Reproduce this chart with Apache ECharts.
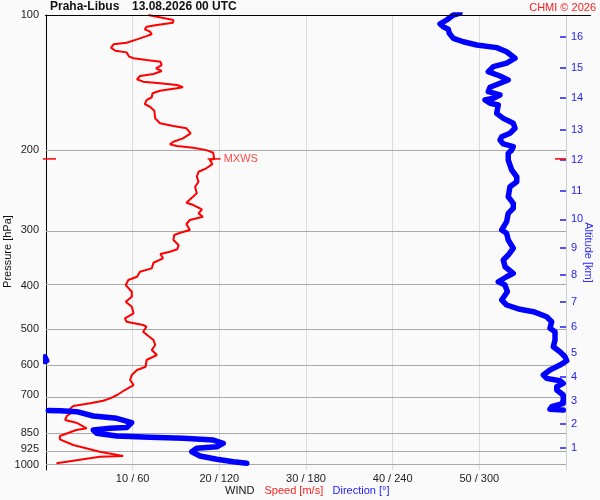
<!DOCTYPE html>
<html>
<head>
<meta charset="utf-8">
<script src="https://cdn.jsdelivr.net/npm/echarts@6/dist/echarts.min.js"></script>
<style>html,body{margin:0;padding:0;background:#fafafa}#chart{width:600px;height:500px}</style>
</head>
<body>
<div id="chart"></div>
<script>
// Pressure levels (hPa) labelled on the left axis
const pressureLevels = [100, 200, 300, 400, 500, 600, 700, 850, 925, 1000];
// Altitude ticks on the right axis (km) and the pressure (hPa) at which each sits
const altitudeKm = [1, 2, 3, 4, 5, 6, 7, 8, 9, 10, 11, 12, 13, 14, 15, 16];
const altitudeP = [918, 813, 722, 639, 566, 494, 434, 378, 330, 285, 246, 210, 180, 153, 131, 112];
// Bottom tick labels: speed (m/s) / direction (deg)
const speedTicks = [10, 20, 30, 40, 50];
const dirTicks = [60, 120, 180, 240, 300];

// Wind speed profile
const speedP = [100,102.6,104.0,105.3,106.2,107.6,108.9,110.4,111.4,113.3,
115.3,116.2,118.2,120.1,121.1,123.8,124.8,125.9,127.0,129.2,
131.4,133.2,135.3,136.7,139.0,140.7,141.9,143.1,144.8,145.6,
147.4,149.3,152.4,154.6,157.8,160.0,163.3,169.8,174.1,176.6,
178.7,183.3,185.9,188.1,191.4,194.0,195.7,197.4,199.8,202.5,
209,210.2,214.6,219.3,223.2,229.0,234.9,236.8,241.0,249.3,
261.6,264.7,270.6,276.2,281.0,285.8,291.7,300.8,305.0,308.6,
316.6,324.8,332.0,336.2,340.2,347.8,355.7,366.1,372.5,382.2,
388.7,398.8,412.7,423.4,434.4,445.6,461.0,472.9,481.2,489.4,
493.7,506.5,528.5,542.2,556.3,570.7,585.5,605.9,616.3,632.3,
648.7,665.6,682.8,700.5,712.5,721.3,731.0,741.1,756.4,763.0,
780.0,796.2,807.3,830.8,838.0,864.2,878.9,905.0,936.6,957.5,
960.9,980.7,993.9];
const speedV = [11.8,14.7,14.65,12.8,11.6,11.4,12.0,12.2,11.6,10.5,
9.3,7.8,7.5,8.0,9.3,9.6,10.1,11.6,13.2,13.35,
12.7,13.35,12.4,10.85,10.5,11.2,13.15,15.1,15.8,15.1,
13.15,12.3,12.2,11.6,11.4,12.0,12.5,12.6,13.15,14.7,
16.2,16.7,16.2,15.8,14.7,14.3,15.1,17.0,18.5,19.3,
19.4,18.9,19.2,18.5,17.6,17.4,17.6,17.8,17.2,17.4,
16.2,17.0,18.0,17.6,18.1,16.6,16.2,16.6,15.5,14.8,
14.7,15.3,15.15,14.3,13.2,13.5,12.4,12.2,10.85,10.5,
9.5,9.2,9.9,9.9,9.2,9.9,10.1,9.1,9.3,11.2,
11.6,11.2,12.4,12.6,12.2,12.8,11.6,11.5,10.5,9.9,
9.7,10.1,9.1,8.2,7.4,6.6,5.1,3.15,2.6,3.15,
2.4,2.2,3.5,4.7,3.5,1.6,1.6,3.15,6.2,8.9,
6.2,3.15,1.2];

// Wind direction profile
const dirP = [99,100,102.6,104.7,106.2,107.6,109.8,112.7,114.7,116.6,
118.2,120.7,124.8,128.0,130.3,133.7,136.7,139.5,141.9,144.8,
148.1,150.6,151.9,153.2,154.6,157.2,158.6,165.5,169.8,174.1,
178.7,183.3,186.6,189.7,193.6,196.3,199.8,203.1,210.2,221.2,
229.0,234.9,241.0,253.7,262.4,269.2,276.2,288.3,300.8,305.9,
316.6,330.3,342.0,350.8,363.1,375.5,382.2,392.1,398.8,412.7,
430.6,441.7,451.5,457.1,469.0,481.2,497.7,506.5,528.5,546.9,
561.2,575.9,587.8,590,600.9,616.3,632.3,643.1,651.1,659.8,
671.4,682.8,700.5,731.0,743.9,753.7,756.4,758.4,759.5,763.0,
780.0,789.3,806.9,827.2,830.8,838.0,852.3,864.2,870.0,874.5,
882.2,897.2,913.0,920.5,936.6,957.5,973.7,985.8,993.9];
const dirV = [286.6,282.0,277.4,272.8,275.0,278.5,279.2,282.0,288.9,298.2,
312.0,318.9,324.7,318.9,309.7,306.2,314.3,320.0,314.3,307.4,
306.2,314.3,315.5,309.7,303.9,307.4,313.1,312.0,316.6,323.5,
324.7,321.2,315.5,314.3,316.6,323.5,322.4,320.0,320.0,322.4,
325.9,325.9,321.2,320.0,323.5,323.5,320.0,318.9,315.5,318.9,
320.0,323.5,320.0,316.6,317.8,323.5,318.9,313.1,317.8,319.4,
315.5,318.9,328.1,337.4,346.6,350.1,348.9,352.4,352.4,351.2,
355.8,359.3,0.5,359.3,355.8,348.9,344.3,346.6,355.8,358.1,
353.6,353.6,358.1,358.1,350.1,348.9,358.1,1.6,9.7,21.3,
32.7,48.9,59.3,55.9,44.3,32.7,35.1,48.9,72.0,95.1,
115.8,122.7,118.2,104.3,100.9,106.6,118.2,129.7,139.0];

// Maximum wind (MXWS)
const maxWindSpeed = 19.4;
const maxWindP = 209;

const L = Math.log10;
const FONT = '"Liberation Sans", Arial, sans-serif';
const RED = '#ff0000', BLUE = '#0000ff';

// continuous direction (handles the 360 -> 0 wrap), then one copy for each side of the wrap
function unwrap(d) {
  const out = [d[0]]; let off = 0;
  for (let i = 1; i < d.length; i++) {
    const diff = d[i] - d[i - 1];
    if (diff > 180) off -= 360; else if (diff < -180) off += 360;
    out.push(d[i] + off);
  }
  return out;
}
const dirU = unwrap(dirV);
const dirData1 = dirU.map((d, i) => [d <= 361 ? d : null, L(dirP[i])]).map(a => a[0] === null ? [null, null] : a);
const dirData2 = dirU.map((d, i) => [d - 360 >= -1 ? d - 360 : null, L(dirP[i])]).map(a => a[0] === null ? [null, null] : a);
const speedData = speedV.map((s, i) => [s, L(speedP[i])]);

const yMin = 2, yMax = 3.0122;

const chart = echarts.init(document.getElementById('chart'), null, {renderer: 'canvas'});
const option = {
  backgroundColor: '#fafafa',
  animation: false,
  textStyle: {fontFamily: FONT},
  grid: {left: 46, right: 34, top: 15, bottom: 30, containLabel: false},
  xAxis: [{
    type: 'value', min: 0, max: 60, interval: 10,
    axisLine: {show: false}, axisTick: {show: false},
    splitLine: {show: true, lineStyle: {color: '#dcdcdc', width: 1}},
    axisLabel: {
      margin: 3, fontSize: 11, color: '#222', fontFamily: FONT,
      formatter: v => { const i = speedTicks.indexOf(v); return i >= 0 ? v + ' / ' + dirTicks[i] : ''; }
    }
  }, {
    type: 'value', min: 0, max: 360, show: false
  }],
  yAxis: [{
    type: 'value', min: yMin, max: yMax, inverse: true, position: 'left',
    axisLine: {show: true, onZero: false, lineStyle: {color: '#000', width: 1}},
    axisTick: {show: false},
    splitLine: {show: false},
    axisLabel: {
      customValues: pressureLevels.map(p => L(p)),
      margin: 7, fontSize: 11, color: '#222', fontFamily: FONT,
      formatter: v => String(Math.round(Math.pow(10, v)))
    }
  }, {
    type: 'value', min: yMin, max: yMax, inverse: true, position: 'right',
    axisLine: {show: true, onZero: false, lineStyle: {color: '#cfcfcf', width: 1}},
    axisTick: {show: true, inside: true, length: 6, customValues: altitudeP.map(p => L(p)),
      lineStyle: {color: '#1e1ef0', width: 1.5}},
    splitLine: {show: false},
    axisLabel: {
      customValues: altitudeP.map(p => L(p)),
      margin: 5, fontSize: 11, color: '#1e1ef0', fontFamily: FONT,
      formatter: v => {
        const i = altitudeP.findIndex(p => Math.abs(L(p) - v) < 1e-6);
        return i >= 0 ? String(altitudeKm[i]) : '';
      }
    }
  }],
  series: [{
    name: 'Speed', type: 'line', xAxisIndex: 0, yAxisIndex: 0,
    data: speedData, showSymbol: false, symbol: 'none', z: 3,
    lineStyle: {color: RED, width: 2},
    markLine: {
      silent: true, z: 1, symbol: ['none', 'none'], label: {show: false},
      lineStyle: {color: '#a9a9a9', type: 'solid', width: 1},
      data: pressureLevels.filter(p => p > 100).map(p => ({yAxis: L(p)}))
    },
    markPoint: {
      silent: true, z: 6,
      data: [
        {coord: [maxWindSpeed, L(maxWindP)], symbol: 'rect', symbolSize: [13, 1.5],
          itemStyle: {color: RED},
          label: {show: true, position: 'right', distance: 3, formatter: 'MXWS', color: '#ff4a4a', fontSize: 11, fontFamily: FONT}},
        {coord: [0, L(maxWindP)], symbol: 'rect', symbolSize: [13, 1.5], symbolOffset: [3.5, 0],
          itemStyle: {color: RED}, label: {show: false}},
        {coord: [60, L(maxWindP)], symbol: 'rect', symbolSize: [11, 1.5], symbolOffset: [-5.5, 0],
          itemStyle: {color: RED}, label: {show: false}}
      ]
    }
  }, {
    name: 'Direction', type: 'line', xAxisIndex: 1, yAxisIndex: 0,
    data: dirData1, showSymbol: false, symbol: 'none', z: 4, clip: true, connectNulls: false,
    lineStyle: {color: BLUE, width: 5.5, cap: 'round', join: 'round'}
  }, {
    name: 'Direction wrapped', type: 'line', xAxisIndex: 1, yAxisIndex: 0,
    data: dirData2, showSymbol: false, symbol: 'none', z: 4, clip: true, connectNulls: false,
    lineStyle: {color: BLUE, width: 5.5, cap: 'round', join: 'round'}
  }],
  graphic: [
    {type: 'line', shape: {x1: 45, y1: 15.5, x2: 591, y2: 15.5}, style: {stroke: '#000', lineWidth: 1}, z: 10},
    {type: 'text', left: 50, top: 1, style: {text: 'Praha-Libus', font: 'bold 12px ' + FONT, fill: '#111'}},
    {type: 'text', left: 132, top: 1, style: {text: '13.08.2026 00 UTC', font: 'bold 12px ' + FONT, fill: '#111'}},
    {type: 'text', right: 4, top: 2, style: {text: 'CHMI © 2026', font: '11px ' + FONT, fill: '#ff1a1a'}},
    {type: 'text', x: 8, y: 251.5, rotation: Math.PI / 2,
      style: {text: 'Pressure [hPa]', font: '11px ' + FONT, fill: '#111', align: 'center', verticalAlign: 'middle'}},
    {type: 'text', x: 588, y: 252.5, rotation: -Math.PI / 2,
      style: {text: 'Altitude [km]', font: '11px ' + FONT, fill: '#2a2aff', align: 'center', verticalAlign: 'middle'}},
    {type: 'text', x: 225, y: 491, style: {text: 'WIND', font: '11px ' + FONT, fill: '#111', verticalAlign: 'middle'}},
    {type: 'text', x: 264.5, y: 491, style: {text: 'Speed [m/s]', font: '11px ' + FONT, fill: '#ff2020', verticalAlign: 'middle'}},
    {type: 'text', x: 332.5, y: 491, style: {text: 'Direction [°]', font: '11px ' + FONT, fill: '#2020ff', verticalAlign: 'middle'}}
  ]
};
chart.setOption(option);
</script>
</body>
</html>
